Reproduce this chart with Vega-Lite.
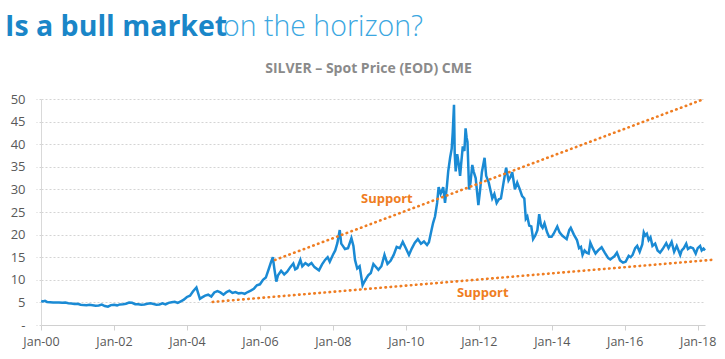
{
  "$schema": "https://vega.github.io/schema/vega-lite/v6.json",
  "width": 664,
  "height": 226,
  "autosize": "none",
  "padding": {"left": 41, "top": 99, "right": 20, "bottom": 34},
  "background": "white",
  "config": {"view": {"stroke": null}, "font": "Open Sans"},
  "title": {
    "text": "Is a bull market",
    "subtitle": "on the horizon?",
    "anchor": "start",
    "frame": "group",
    "orient": "top",
    "dx": -36,
    "offset": 20,
    "font": "Open Sans",
    "fontSize": 28.5,
    "fontWeight": "bold",
    "color": "#1a86c8",
    "subtitleFont": "Open Sans",
    "subtitleFontSize": 28.5,
    "subtitleFontWeight": 300,
    "subtitleColor": "#3ba7e1",
    "subtitlePadding": -28.5,
    "encode": {"subtitle": {"update": {"dx": {"value": 182}}}}
  },
  "datasets": {
    "silver": [
      {"date": "2000-01-03", "price": 5.3},
      {"date": "2000-01-20", "price": 5.2},
      {"date": "2000-02-10", "price": 5.35},
      {"date": "2000-03-01", "price": 5.1},
      {"date": "2000-04-01", "price": 5.05},
      {"date": "2000-05-01", "price": 5.0},
      {"date": "2000-06-01", "price": 5.0},
      {"date": "2000-07-01", "price": 5.0},
      {"date": "2000-08-01", "price": 4.9},
      {"date": "2000-09-01", "price": 4.95},
      {"date": "2000-10-01", "price": 4.8},
      {"date": "2000-11-01", "price": 4.75},
      {"date": "2000-12-01", "price": 4.65},
      {"date": "2001-01-01", "price": 4.7},
      {"date": "2001-02-01", "price": 4.5},
      {"date": "2001-03-01", "price": 4.4},
      {"date": "2001-04-01", "price": 4.35},
      {"date": "2001-05-01", "price": 4.45},
      {"date": "2001-06-01", "price": 4.35},
      {"date": "2001-07-01", "price": 4.25},
      {"date": "2001-08-01", "price": 4.3},
      {"date": "2001-09-01", "price": 4.5},
      {"date": "2001-10-01", "price": 4.2},
      {"date": "2001-11-01", "price": 4.05},
      {"date": "2001-12-01", "price": 4.4},
      {"date": "2002-01-01", "price": 4.5},
      {"date": "2002-02-01", "price": 4.35},
      {"date": "2002-03-01", "price": 4.55},
      {"date": "2002-04-01", "price": 4.6},
      {"date": "2002-05-01", "price": 4.7},
      {"date": "2002-06-01", "price": 4.95},
      {"date": "2002-07-01", "price": 4.9},
      {"date": "2002-08-01", "price": 4.6},
      {"date": "2002-09-01", "price": 4.6},
      {"date": "2002-10-01", "price": 4.5},
      {"date": "2002-11-01", "price": 4.55},
      {"date": "2002-12-01", "price": 4.7},
      {"date": "2003-01-01", "price": 4.8},
      {"date": "2003-02-01", "price": 4.65},
      {"date": "2003-03-01", "price": 4.5},
      {"date": "2003-04-01", "price": 4.55},
      {"date": "2003-05-01", "price": 4.8},
      {"date": "2003-06-01", "price": 4.55},
      {"date": "2003-07-01", "price": 4.9},
      {"date": "2003-08-01", "price": 5.05},
      {"date": "2003-09-01", "price": 5.15},
      {"date": "2003-10-01", "price": 4.9},
      {"date": "2003-11-01", "price": 5.25},
      {"date": "2003-12-01", "price": 5.6},
      {"date": "2004-01-01", "price": 6.2},
      {"date": "2004-02-01", "price": 6.5},
      {"date": "2004-03-01", "price": 7.4},
      {"date": "2004-04-05", "price": 8.3},
      {"date": "2004-04-20", "price": 7.2},
      {"date": "2004-05-10", "price": 5.8},
      {"date": "2004-06-01", "price": 6.1},
      {"date": "2004-07-01", "price": 6.5},
      {"date": "2004-08-01", "price": 6.7},
      {"date": "2004-09-01", "price": 6.3},
      {"date": "2004-10-01", "price": 7.2},
      {"date": "2004-11-01", "price": 7.5},
      {"date": "2004-12-01", "price": 7.2},
      {"date": "2005-01-01", "price": 6.7},
      {"date": "2005-02-01", "price": 7.3},
      {"date": "2005-03-01", "price": 7.6},
      {"date": "2005-04-01", "price": 7.1},
      {"date": "2005-05-01", "price": 7.3},
      {"date": "2005-06-01", "price": 7.0},
      {"date": "2005-07-01", "price": 7.1},
      {"date": "2005-08-01", "price": 6.9},
      {"date": "2005-09-01", "price": 7.3},
      {"date": "2005-10-01", "price": 7.6},
      {"date": "2005-11-01", "price": 8.0},
      {"date": "2005-12-01", "price": 8.8},
      {"date": "2006-01-01", "price": 9.0},
      {"date": "2006-02-01", "price": 10.0},
      {"date": "2006-03-01", "price": 10.5},
      {"date": "2006-04-01", "price": 12.5},
      {"date": "2006-04-20", "price": 13.8},
      {"date": "2006-05-10", "price": 15.0},
      {"date": "2006-05-25", "price": 12.5},
      {"date": "2006-06-14", "price": 9.6},
      {"date": "2006-07-01", "price": 11.0},
      {"date": "2006-08-01", "price": 12.0},
      {"date": "2006-09-01", "price": 11.2},
      {"date": "2006-10-01", "price": 11.8},
      {"date": "2006-11-01", "price": 12.8},
      {"date": "2006-12-01", "price": 13.6},
      {"date": "2006-12-20", "price": 12.3},
      {"date": "2007-01-10", "price": 12.6},
      {"date": "2007-02-10", "price": 14.4},
      {"date": "2007-03-01", "price": 13.0},
      {"date": "2007-04-01", "price": 13.7},
      {"date": "2007-05-01", "price": 13.2},
      {"date": "2007-06-01", "price": 13.7},
      {"date": "2007-07-01", "price": 12.8},
      {"date": "2007-08-15", "price": 12.1},
      {"date": "2007-09-15", "price": 13.4},
      {"date": "2007-10-15", "price": 14.4},
      {"date": "2007-11-10", "price": 15.0},
      {"date": "2007-12-01", "price": 14.0},
      {"date": "2008-01-01", "price": 15.5},
      {"date": "2008-01-25", "price": 16.5},
      {"date": "2008-02-15", "price": 18.1},
      {"date": "2008-03-10", "price": 21.0},
      {"date": "2008-03-25", "price": 18.0},
      {"date": "2008-04-10", "price": 17.5},
      {"date": "2008-05-01", "price": 16.8},
      {"date": "2008-06-01", "price": 17.0},
      {"date": "2008-07-05", "price": 19.2},
      {"date": "2008-07-25", "price": 17.5},
      {"date": "2008-08-10", "price": 14.4},
      {"date": "2008-09-01", "price": 12.5},
      {"date": "2008-09-25", "price": 13.0},
      {"date": "2008-10-25", "price": 8.8},
      {"date": "2008-11-10", "price": 9.5},
      {"date": "2008-12-01", "price": 10.3},
      {"date": "2008-12-20", "price": 11.0},
      {"date": "2009-01-15", "price": 11.5},
      {"date": "2009-02-10", "price": 13.5},
      {"date": "2009-03-01", "price": 13.0},
      {"date": "2009-04-01", "price": 12.2},
      {"date": "2009-05-01", "price": 13.0},
      {"date": "2009-06-01", "price": 15.5},
      {"date": "2009-07-01", "price": 13.5},
      {"date": "2009-08-01", "price": 14.2},
      {"date": "2009-09-01", "price": 15.5},
      {"date": "2009-10-01", "price": 17.3},
      {"date": "2009-11-01", "price": 17.0},
      {"date": "2009-12-01", "price": 18.4},
      {"date": "2010-01-01", "price": 17.0},
      {"date": "2010-02-01", "price": 15.5},
      {"date": "2010-03-01", "price": 16.9},
      {"date": "2010-04-01", "price": 18.2},
      {"date": "2010-05-01", "price": 19.0},
      {"date": "2010-06-01", "price": 18.0},
      {"date": "2010-07-01", "price": 18.5},
      {"date": "2010-08-01", "price": 17.7},
      {"date": "2010-08-20", "price": 18.3},
      {"date": "2010-09-15", "price": 21.0},
      {"date": "2010-10-01", "price": 22.6},
      {"date": "2010-10-20", "price": 24.0},
      {"date": "2010-11-10", "price": 27.0},
      {"date": "2010-11-25", "price": 30.5},
      {"date": "2010-12-15", "price": 29.0},
      {"date": "2011-01-10", "price": 30.5},
      {"date": "2011-01-28", "price": 27.0},
      {"date": "2011-02-15", "price": 30.5},
      {"date": "2011-03-01", "price": 34.0},
      {"date": "2011-03-20", "price": 37.0},
      {"date": "2011-04-05", "price": 39.0},
      {"date": "2011-04-15", "price": 42.5},
      {"date": "2011-04-28", "price": 48.7},
      {"date": "2011-05-05", "price": 38.0},
      {"date": "2011-05-15", "price": 34.0},
      {"date": "2011-05-30", "price": 37.8},
      {"date": "2011-06-15", "price": 35.5},
      {"date": "2011-06-28", "price": 33.0},
      {"date": "2011-07-10", "price": 36.0},
      {"date": "2011-07-25", "price": 39.5},
      {"date": "2011-08-10", "price": 38.5},
      {"date": "2011-08-22", "price": 43.5},
      {"date": "2011-09-01", "price": 41.5},
      {"date": "2011-09-10", "price": 40.5},
      {"date": "2011-09-26", "price": 30.0},
      {"date": "2011-10-10", "price": 31.5},
      {"date": "2011-10-28", "price": 35.4},
      {"date": "2011-11-10", "price": 34.0},
      {"date": "2011-12-01", "price": 32.5},
      {"date": "2011-12-28", "price": 26.5},
      {"date": "2012-01-15", "price": 30.0},
      {"date": "2012-02-01", "price": 33.8},
      {"date": "2012-02-28", "price": 37.0},
      {"date": "2012-03-15", "price": 33.0},
      {"date": "2012-04-10", "price": 31.5},
      {"date": "2012-05-15", "price": 28.0},
      {"date": "2012-06-05", "price": 29.0},
      {"date": "2012-06-28", "price": 27.0},
      {"date": "2012-07-20", "price": 27.8},
      {"date": "2012-08-10", "price": 28.0},
      {"date": "2012-09-05", "price": 31.5},
      {"date": "2012-10-01", "price": 34.8},
      {"date": "2012-10-25", "price": 32.0},
      {"date": "2012-11-15", "price": 32.8},
      {"date": "2012-12-01", "price": 33.8},
      {"date": "2012-12-28", "price": 30.0},
      {"date": "2013-01-20", "price": 31.5},
      {"date": "2013-02-15", "price": 30.0},
      {"date": "2013-03-10", "price": 28.5},
      {"date": "2013-04-01", "price": 28.0},
      {"date": "2013-04-16", "price": 23.5},
      {"date": "2013-05-01", "price": 24.0},
      {"date": "2013-05-20", "price": 22.0},
      {"date": "2013-06-10", "price": 21.8},
      {"date": "2013-06-28", "price": 19.0},
      {"date": "2013-07-20", "price": 19.8},
      {"date": "2013-08-10", "price": 21.0},
      {"date": "2013-08-28", "price": 24.5},
      {"date": "2013-09-15", "price": 22.0},
      {"date": "2013-10-01", "price": 21.5},
      {"date": "2013-10-20", "price": 22.5},
      {"date": "2013-11-15", "price": 20.5},
      {"date": "2013-12-05", "price": 19.5},
      {"date": "2013-12-30", "price": 19.5},
      {"date": "2014-01-20", "price": 20.2},
      {"date": "2014-02-25", "price": 21.8},
      {"date": "2014-03-20", "price": 20.5},
      {"date": "2014-04-15", "price": 19.8},
      {"date": "2014-05-30", "price": 19.0},
      {"date": "2014-06-25", "price": 21.0},
      {"date": "2014-07-10", "price": 21.5},
      {"date": "2014-08-10", "price": 20.0},
      {"date": "2014-09-10", "price": 18.8},
      {"date": "2014-10-01", "price": 17.0},
      {"date": "2014-10-20", "price": 17.3},
      {"date": "2014-11-05", "price": 15.5},
      {"date": "2014-11-25", "price": 16.5},
      {"date": "2014-12-15", "price": 16.0},
      {"date": "2015-01-05", "price": 15.8},
      {"date": "2015-01-22", "price": 18.2},
      {"date": "2015-02-15", "price": 17.0},
      {"date": "2015-03-15", "price": 15.8},
      {"date": "2015-04-10", "price": 16.5},
      {"date": "2015-05-15", "price": 17.2},
      {"date": "2015-06-15", "price": 16.0},
      {"date": "2015-07-20", "price": 14.8},
      {"date": "2015-08-10", "price": 14.5},
      {"date": "2015-08-28", "price": 14.8},
      {"date": "2015-09-20", "price": 15.2},
      {"date": "2015-10-15", "price": 16.0},
      {"date": "2015-11-15", "price": 14.3},
      {"date": "2015-12-15", "price": 13.8},
      {"date": "2016-01-10", "price": 14.0},
      {"date": "2016-02-10", "price": 15.3},
      {"date": "2016-03-01", "price": 15.0},
      {"date": "2016-03-20", "price": 15.5},
      {"date": "2016-04-15", "price": 17.0},
      {"date": "2016-05-05", "price": 17.5},
      {"date": "2016-05-30", "price": 16.2},
      {"date": "2016-06-25", "price": 17.8},
      {"date": "2016-07-10", "price": 20.5},
      {"date": "2016-07-25", "price": 19.8},
      {"date": "2016-08-10", "price": 20.2},
      {"date": "2016-08-28", "price": 18.8},
      {"date": "2016-09-15", "price": 19.4},
      {"date": "2016-10-05", "price": 17.5},
      {"date": "2016-11-01", "price": 18.0},
      {"date": "2016-11-25", "price": 16.5},
      {"date": "2016-12-20", "price": 16.0},
      {"date": "2017-01-15", "price": 16.8},
      {"date": "2017-02-20", "price": 18.1},
      {"date": "2017-03-15", "price": 17.0},
      {"date": "2017-04-15", "price": 18.4},
      {"date": "2017-05-10", "price": 16.2},
      {"date": "2017-06-05", "price": 17.5},
      {"date": "2017-07-10", "price": 15.5},
      {"date": "2017-07-25", "price": 16.5},
      {"date": "2017-08-15", "price": 17.0},
      {"date": "2017-09-08", "price": 18.0},
      {"date": "2017-09-25", "price": 16.8},
      {"date": "2017-10-20", "price": 17.2},
      {"date": "2017-11-15", "price": 17.0},
      {"date": "2017-12-12", "price": 15.8},
      {"date": "2018-01-01", "price": 17.0},
      {"date": "2018-01-25", "price": 17.5},
      {"date": "2018-02-10", "price": 16.5},
      {"date": "2018-02-28", "price": 16.9},
      {"date": "2018-03-15", "price": 16.5}
    ],
    "support": [
      {"line": "upper", "date": "2006-06-01", "price": 14.4},
      {"line": "upper", "date": "2018-02-10", "price": 49.8},
      {"line": "lower", "date": "2004-09-15", "price": 5.1},
      {"line": "lower", "date": "2018-05-18", "price": 14.4}
    ],
    "labels": [
      {"date": "2009-06-25", "price": 27.9, "label": "Support"},
      {"date": "2012-02-10", "price": 7.1, "label": "Support"}
    ]
  },
  "encoding": {
    "y": {
      "field": "price",
      "type": "quantitative",
      "scale": {"domain": [0, 50], "nice": false, "zero": true},
      "axis": {
        "title": null,
        "orient": "left",
        "values": [0, 5, 10, 15, 20, 25, 30, 35, 40, 45, 50],
        "labelExpr": "datum.value === 0 ? '-' : datum.label",
        "grid": true,
        "gridColor": "#d4d4d4",
        "gridDash": [2, 2],
        "domain": true,
        "domainColor": "#d9d9d9",
        "ticks": true,
        "tickColor": "#d4d4d4",
        "tickDash": [2, 2],
        "tickSize": 5,
        "labelFont": "Open Sans",
        "labelFontSize": 13,
        "labelColor": "#595959",
        "labelPadding": 11
      }
    }
  },
  "layer": [
    {
      "data": {"name": "silver"},
      "mark": {"type": "line", "color": "#1a8ad4", "strokeWidth": 2.5, "clip": false},
      "encoding": {
        "x": {
          "field": "date",
          "type": "temporal",
          "scale": {"type": "utc", "domain": [{"year": 2000, "month": 1, "date": 1, "utc": true}, {"year": 2018, "month": 3, "date": 15, "utc": true}]},
          "axis": {
            "title": null,
            "orient": "bottom",
            "format": "%b-%y",
            "tickCount": {"interval": "year", "step": 2},
            "grid": false,
            "domainColor": "#d0d0d0",
            "tickColor": "#d0d0d0",
            "tickSize": 5,
            "labelFont": "Open Sans",
            "labelFontSize": 12.5,
            "labelColor": "#595959",
            "labelPadding": 5,
            "labelFlush": false,
            "labelOverlap": false
          }
        }
      }
    },
    {
      "data": {"name": "support"},
      "mark": {"type": "line", "color": "#ef7d22", "strokeWidth": 2.6, "strokeDash": [0.5, 4.6], "strokeCap": "round", "clip": false},
      "encoding": {
        "x": {
          "field": "date",
          "type": "temporal",
          "scale": {"type": "utc", "domain": [{"year": 2000, "month": 1, "date": 1, "utc": true}, {"year": 2018, "month": 3, "date": 15, "utc": true}]},
          "axis": {
            "orient": "top",
            "title": "SILVER – Spot Price (EOD) CME",
            "titleFont": "Open Sans",
            "titleFontSize": 14,
            "titleFontWeight": "bold",
            "titleColor": "#8a8a8a",
            "titlePadding": 24,
            "titleX": 327,
            "labels": false,
            "ticks": false,
            "domain": false,
            "grid": false
          }
        },
        "detail": {"field": "line", "type": "nominal"}
      }
    },
    {
      "data": {"name": "labels"},
      "mark": {"type": "text", "color": "#ef7d22", "font": "Open Sans", "fontSize": 13, "fontWeight": "bold", "align": "center", "baseline": "middle"},
      "encoding": {
        "x": {"field": "date", "type": "temporal", "axis": null},
        "text": {"field": "label"}
      }
    }
  ]
}
